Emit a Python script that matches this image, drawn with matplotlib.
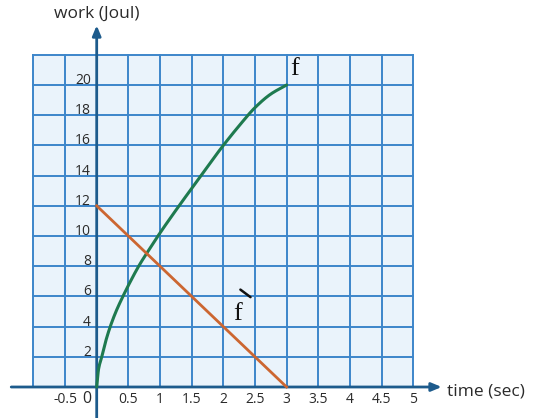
import numpy as np
import matplotlib
matplotlib.use("Agg")
import matplotlib.pyplot as plt

# data
f_t = [0, 0.03, 0.08, 0.14, 0.21, 0.30, 0.42, 0.54, 0.67, 0.82, 1.0, 1.25, 1.5, 1.75, 2.0, 2.25, 2.5, 2.75, 3.0]
f_w = [0, 1.2, 2.0, 3.0, 3.95, 4.95, 6.05, 7.05, 8.05, 9.05, 10.2, 11.7, 13.15, 14.6, 16.0, 17.3, 18.5, 19.4, 20.0]
fp_t = [0, 3]
fp_w = [12, 0]

x_ticks = [-0.5, 0.5, 1, 1.5, 2, 2.5, 3, 3.5, 4, 4.5, 5]
x_tick_labels = ["-0.5", "0.5", "1", "1.5", "2", "2.5", "3", "3.5", "4", "4.5", "5"]
y_ticks = [2, 4, 6, 8, 10, 12, 14, 16, 18, 20]
y_tick_labels = [str(v) for v in y_ticks]
x_label = "time (sec)"
y_label = "work (Joul)"


def pchip(x, y, n=400):
    x = np.asarray(x, float)
    y = np.asarray(y, float)
    h = np.diff(x)
    d = np.diff(y) / h
    m = np.zeros_like(y)
    for k in range(1, len(x) - 1):
        if d[k - 1] * d[k] > 0:
            w1 = 2 * h[k] + h[k - 1]
            w2 = h[k] + 2 * h[k - 1]
            m[k] = (w1 + w2) / (w1 / d[k - 1] + w2 / d[k])
    m[0] = d[0]
    m[-1] = d[-1]
    xs = np.linspace(x[0], x[-1], n)
    idx = np.clip(np.searchsorted(x, xs) - 1, 0, len(x) - 2)
    t = (xs - x[idx]) / h[idx]
    h00 = 2 * t**3 - 3 * t**2 + 1
    h10 = t**3 - 2 * t**2 + t
    h01 = -2 * t**3 + 3 * t**2
    h11 = t**3 - t**2
    ys = h00 * y[idx] + h10 * h[idx] * m[idx] + h01 * y[idx + 1] + h11 * h[idx] * m[idx + 1]
    return xs, ys


W, H = 559, 418
fig = plt.figure(figsize=(W / 100, H / 100), dpi=100)
ax = fig.add_axes([0, 0, 1, 1])
x0, sx = 96.7, 63.3
y0, sy = 387.0, 15.1
ax.set_xlim(-x0 / sx, (W - x0) / sx)
ax.set_ylim(-(H - y0) / sy, y0 / sy)
ax.axis("off")

grid_c = "#3d86ca"
bg_c = "#eaf3fb"
axis_c = "#1d5b8c"
green = "#1e7a4f"
orange = "#cc6631"
text_c = "#2a2a2a"

ax.fill_between([-1, 5], 0, 22, color=bg_c, zorder=0, linewidth=0)
for xv in np.arange(-1, 5.01, 0.5):
    ax.plot([xv, xv], [0, 22], color=grid_c, lw=1.4, zorder=1)
for yv in np.arange(0, 22.01, 2):
    ax.plot([-1, 5], [yv, yv], color=grid_c, lw=1.4, zorder=1)

ax.annotate("", xy=(5.45, 0), xytext=(-1.35, 0),
            arrowprops=dict(arrowstyle="-|>,head_length=0.6,head_width=0.25", color=axis_c, lw=2.0,
                            shrinkA=0, shrinkB=0), zorder=3)
ax.annotate("", xy=(0, 23.95), xytext=(0, -2.2),
            arrowprops=dict(arrowstyle="-|>,head_length=0.6,head_width=0.25", color=axis_c, lw=2.0,
                            shrinkA=0, shrinkB=0), zorder=3)

st, sw = pchip(f_t, f_w)
ax.plot(st, sw, color=green, lw=2.2, zorder=4, solid_capstyle="round")
ax.plot(fp_t, fp_w, color=orange, lw=2.0, zorder=4)

font = "Open Sans"
for v, lab in zip(x_ticks, x_tick_labels):
    ax.text(v, -0.8, lab, ha="center", va="center", fontsize=10, color=text_c, family=font, zorder=5)
ax.text(-0.15, -0.8, "0", ha="center", va="center", fontsize=11.5, color=text_c, family=font, zorder=5)
for v, lab in zip(y_ticks, y_tick_labels):
    ax.text(-0.09, v + 0.3, lab, ha="right", va="center", fontsize=10, color=text_c, family=font, zorder=5)

ax.text(5.54, -0.3, x_label, ha="left", va="center", fontsize=12.5, color=text_c, family=font)
ax.text(0, 24.7, y_label, ha="center", va="center", fontsize=12.5, color=text_c, family=font)

serif = "Liberation Serif"
ax.text(3.05, 20.3, "f", ha="left", va="bottom", fontsize=19, color="#111111", family=serif, zorder=5)
ax.text(2.22, 4.1, "f", ha="center", va="bottom", fontsize=19, color="#111111", family=serif, zorder=5)
# grave mark of f`
ax.plot([2.27, 2.43], [6.45, 5.95], color="#111111", lw=1.8, solid_capstyle="round", zorder=5)

fig.savefig("out.png", dpi=100)
